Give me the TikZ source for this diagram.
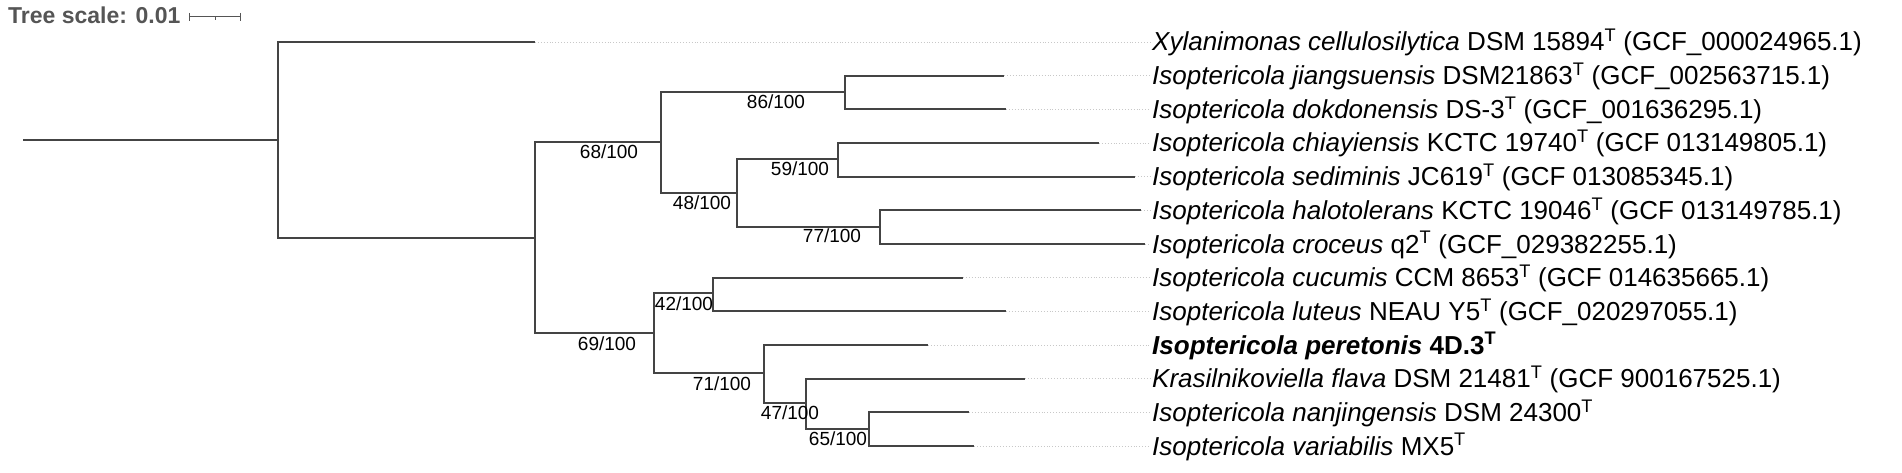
\documentclass[tikz,border=0pt]{standalone}
\usepackage{fontspec}
\setmainfont{Liberation Sans}
\definecolor{treegray}{HTML}{444444}
\definecolor{dotgray}{HTML}{C8C8C8}
\definecolor{scalegray}{HTML}{555555}
\tikzset{
  branch/.style={draw=treegray, line width=1.7pt},
  leader/.style={draw=dotgray, line width=0.9pt, dotted, shorten >=2pt},
  tiplabel/.style={anchor=base west, inner sep=0pt, font=\fontsize{26}{30}\selectfont},
  support/.style={inner sep=0pt, font=\fontsize{19}{22}\selectfont},
  scalebar/.style={draw=scalegray, line width=1pt},
}
\begin{document}
\begin{tikzpicture}[x=1pt,y=-1pt]
\useasboundingbox (0,0) rectangle (1902,473);
% scale
\node[anchor=base west, inner sep=0pt, text=scalegray, font=\bfseries\fontsize{23}{26}\selectfont] (ts) at (8,24) {Tree scale: 0.01};
\coordinate (sb1) at (189,17);
\coordinate (sb2) at (240,17);
\draw[scalebar] (sb1) -- (sb2);
\draw[scalebar] (189,13) -- (189,21);
\draw[scalebar] (240,13) -- (240,21);
\draw[scalebar] (215,17) -- (215,20);
% internal nodes
\coordinate (root) at (23,140);
\coordinate (A) at (278,140);
\coordinate (B) at (535,238);
\coordinate (C) at (661,142);
\coordinate (D) at (845,92);
\coordinate (E) at (737,193);
\coordinate (F) at (838,159);
\coordinate (G) at (880,227);
\coordinate (H) at (654,333);
\coordinate (I) at (713,293);
\coordinate (J) at (764,373);
\coordinate (K) at (806,403);
\coordinate (L) at (869,429);
% tips
\coordinate (t1) at (535,42);
\coordinate (t2) at (1004,75.7);
\coordinate (t3) at (1006,109.3);
\coordinate (t4) at (1099,143);
\coordinate (t5) at (1135,176.7);
\coordinate (t6) at (1141,210.3);
\coordinate (t7) at (1145,244);
\coordinate (t8) at (963,277.7);
\coordinate (t9) at (1006,311.3);
\coordinate (t10) at (928,345);
\coordinate (t11) at (1025,378.7);
\coordinate (t12) at (969,412.3);
\coordinate (t13) at (974,446);
% branches
\draw[branch] (root) -- (A);
\draw[branch] (A) |- (t1);
\draw[branch] (A) |- (B);
\draw[branch] (B) |- (C);
\draw[branch] (B) |- (H);
\draw[branch] (C) |- (D);
\draw[branch] (C) |- (E);
\draw[branch] (D) |- (t2);
\draw[branch] (D) |- (t3);
\draw[branch] (E) |- (F);
\draw[branch] (E) |- (G);
\draw[branch] (F) |- (t4);
\draw[branch] (F) |- (t5);
\draw[branch] (G) |- (t6);
\draw[branch] (G) |- (t7);
\draw[branch] (H) |- (I);
\draw[branch] (H) |- (J);
\draw[branch] (I) |- (t8);
\draw[branch] (I) |- (t9);
\draw[branch] (J) |- (t10);
\draw[branch] (J) |- (K);
\draw[branch] (K) |- (t11);
\draw[branch] (K) |- (L);
\draw[branch] (L) |- (t12);
\draw[branch] (L) |- (t13);
% labels
\node[tiplabel] (l1) at (1152,51) {\textit{Xylanimonas cellulosilytica} DSM 15894\textsuperscript{T} (GCF\_000024965.1)};
\node[tiplabel] (l2) at (1152,84.7) {\textit{Isoptericola jiangsuensis} DSM21863\textsuperscript{T} (GCF\_002563715.1)};
\node[tiplabel] (l3) at (1152,118.3) {\textit{Isoptericola dokdonensis} DS-3\textsuperscript{T} (GCF\_001636295.1)};
\node[tiplabel] (l4) at (1152,152) {\textit{Isoptericola chiayiensis} KCTC 19740\textsuperscript{T} (GCF 013149805.1)};
\node[tiplabel] (l5) at (1152,185.7) {\textit{Isoptericola sediminis} JC619\textsuperscript{T} (GCF 013085345.1)};
\node[tiplabel] (l6) at (1152,219.3) {\textit{Isoptericola halotolerans} KCTC 19046\textsuperscript{T} (GCF 013149785.1)};
\node[tiplabel] (l7) at (1152,253) {\textit{Isoptericola croceus} q2\textsuperscript{T} (GCF\_029382255.1)};
\node[tiplabel] (l8) at (1152,286.7) {\textit{Isoptericola cucumis} CCM 8653\textsuperscript{T} (GCF 014635665.1)};
\node[tiplabel] (l9) at (1152,320.3) {\textit{Isoptericola luteus} NEAU Y5\textsuperscript{T} (GCF\_020297055.1)};
\node[tiplabel] (l10) at (1152,354) {\textbf{\textit{Isoptericola peretonis} 4D.3\textsuperscript{T}}};
\node[tiplabel] (l11) at (1152,387.7) {\textit{Krasilnikoviella flava} DSM 21481\textsuperscript{T} (GCF 900167525.1)};
\node[tiplabel] (l12) at (1152,421.3) {\textit{Isoptericola nanjingensis} DSM 24300\textsuperscript{T}};
\node[tiplabel] (l13) at (1152,455) {\textit{Isoptericola variabilis} MX5\textsuperscript{T}};
% leaders
\foreach \i in {1,...,13} {
  \draw[leader] (t\i) -- (t\i -| l\i.west);
}
% support values
\node[support] (s68) at (609,152) {68/100};
\node[support] (s86) at (776,102) {86/100};
\node[support] (s48) at (702,203) {48/100};
\node[support] (s59) at (800,169) {59/100};
\node[support] (s77) at (832,236) {77/100};
\node[support] (s69) at (607,344) {69/100};
\node[support] (s42) at (684,304) {42/100};
\node[support] (s71) at (722,384) {71/100};
\node[support] (s47) at (790,413) {47/100};
\node[support] (s65) at (838,439) {65/100};
\end{tikzpicture}
\end{document}
